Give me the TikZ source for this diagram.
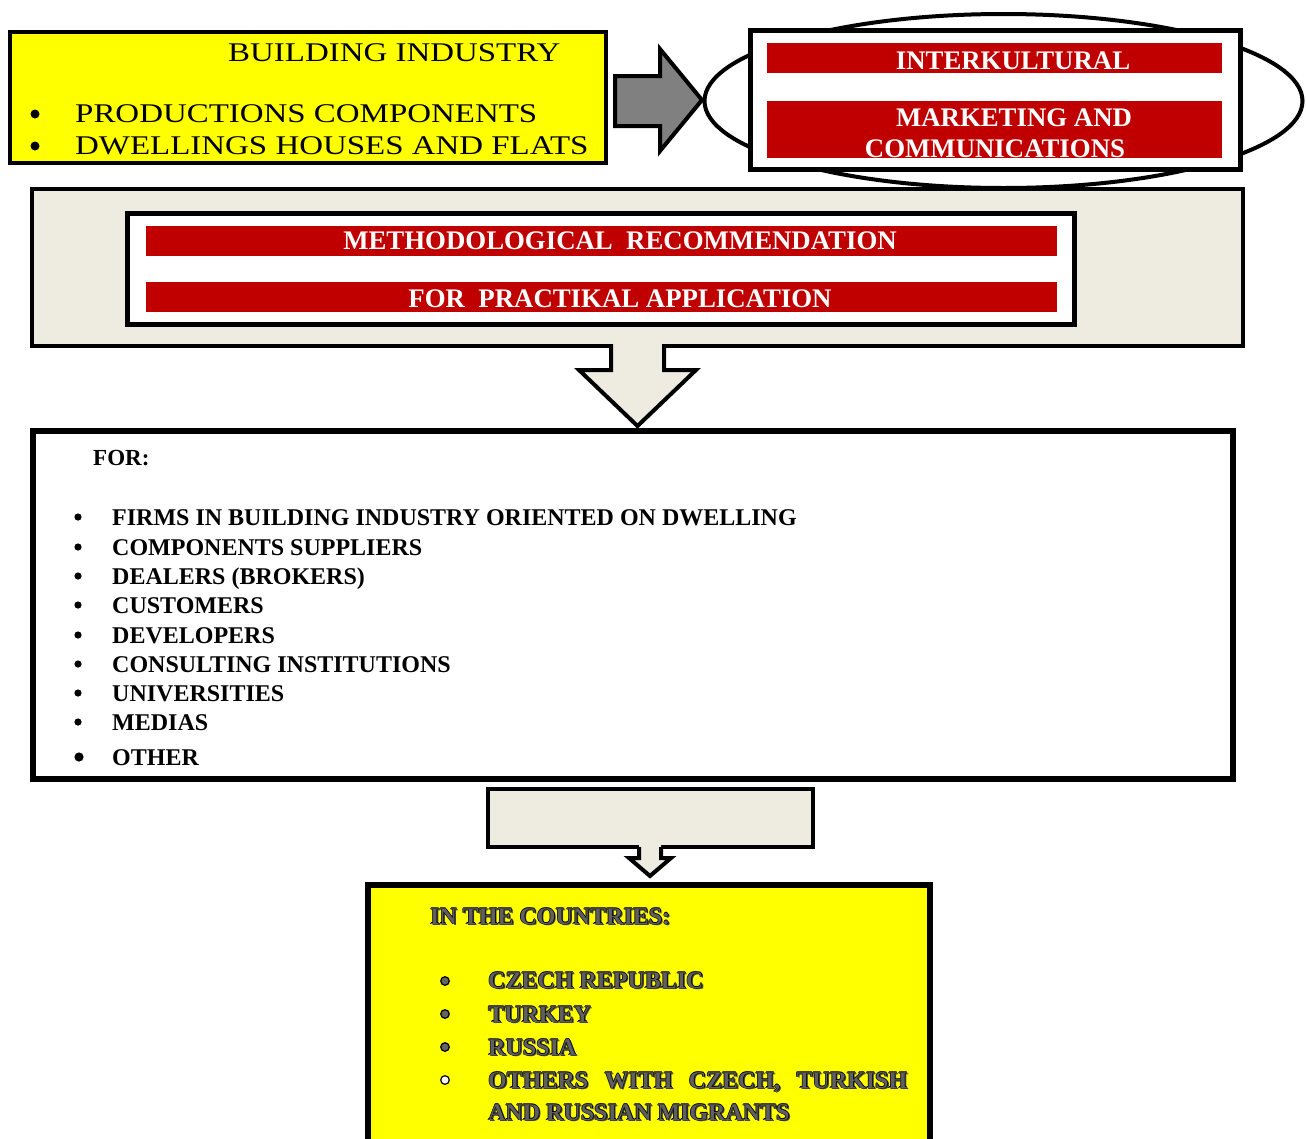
\documentclass[tikz,border=0pt]{standalone}
\usepackage{fontspec}
\setmainfont{Liberation Serif}
\newfontfamily\widefont[FakeStretch=1.22]{Liberation Serif}
\usetikzlibrary{shapes.geometric}
\definecolor{myyellow}{RGB}{255,255,0}
\definecolor{myred}{RGB}{192,0,0}
\definecolor{mybeige}{RGB}{238,236,225}
\definecolor{arrowgray}{RGB}{128,128,128}
\definecolor{txtgray}{RGB}{95,95,95}
\definecolor{bulgray}{RGB}{100,100,100}
\newcommand\olt[1]{\leavevmode
 \rlap{\textcolor{black!75}{\hspace*{1.6pt}\raisebox{-1.6pt}{#1}}}%
 \rlap{\textcolor{black}{\hspace*{-0.7pt}#1}}%
 \rlap{\textcolor{black}{\hspace*{0.7pt}#1}}%
 \rlap{\textcolor{black}{\raisebox{0.7pt}{#1}}}%
 \rlap{\textcolor{black}{\raisebox{-0.7pt}{#1}}}%
 \textcolor{txtgray}{#1}}
\tikzset{
 boxnode/.style={draw=black, inner sep=0pt, outer sep=0pt},
 redbar/.style={fill=myred, inner sep=0pt, outer sep=0pt},
 bartext/.style={text=white, inner sep=0pt, font=\bfseries\fontsize{26.8}{26.8}\selectfont},
 toptext/.style={inner sep=0pt, anchor=base west, font=\widefont\fontsize{27}{27}\selectfont},
 listtext/.style={inner sep=0pt, anchor=base west, font=\bfseries\fontsize{24}{24}\selectfont},
 ctext/.style={inner sep=0pt, anchor=base west, font=\bfseries\fontsize{24}{24}\selectfont},
 blockarrow/.style={line width=4pt, line join=miter},
}
\begin{document}
\begin{tikzpicture}[x=1pt,y=-1pt]
\useasboundingbox (0,0) rectangle (1306,1138);
\clip (0,0) rectangle (1306,1138);

% ellipse and right box
\node[boxnode, ellipse, line width=4pt, fill=white, minimum width=598pt, minimum height=174pt] (ell) at (1003.5,101) {};
\node[boxnode, line width=5pt, fill=white, minimum width=490pt, minimum height=139pt] (rbox) at (995.5,100) {};
\node[redbar, minimum width=455pt, minimum height=30pt] (rbar1) at (994.5,58) {};
\node[redbar, minimum width=455pt, minimum height=57pt] (rbar2) at (994.5,129.5) {};
\node[bartext, anchor=base] (t-inter) at (1013,69) {INTERKULTURAL};
\node[bartext, anchor=base] (t-mark) at (1014,126) {MARKETING AND};
\node[bartext, anchor=base] (t-comm) at (995,157) {COMMUNICATIONS};

% top-left yellow box
\node[boxnode, line width=4pt, fill=myyellow, minimum width=596pt, minimum height=131pt] (ybox) at (308,97.5) {};
\node[toptext] (t-bi) at (228,61) {BUILDING INDUSTRY};
\fill (35,114) circle (4.5);
\fill (35,146) circle (4.5);
\node[toptext] (t-pc) at (75,122) {PRODUCTIONS COMPONENTS};
\node[toptext] (t-dh) at (75,154) {DWELLINGS HOUSES AND FLATS};

% gray arrow
\draw[blockarrow, fill=arrowgray] (615,76) -- (660,76) -- (660,49) -- (702,100) -- (660,151) -- (660,126) -- (615,126) -- cycle;

% beige box with inner white box
\node[boxnode, line width=4pt, fill=mybeige, minimum width=1211pt, minimum height=157pt] (bbox) at (637.5,267.5) {};
\node[boxnode, line width=5pt, fill=white, minimum width=947pt, minimum height=111pt] (wbox) at (601,269) {};
\node[redbar, minimum width=911pt, minimum height=30pt] (mbar1) at (601.5,241) {};
\node[redbar, minimum width=911pt, minimum height=30pt] (mbar2) at (601.5,297) {};
\node[bartext, anchor=base] (t-meth) at (620,249) {METHODOLOGICAL\ \ RECOMMENDATION};
\node[bartext, anchor=base] (t-prac) at (620,307) {FOR\ \ PRACTIKAL APPLICATION};

% down arrow 1
\fill[mybeige] (611,342) -- (611,370) -- (579,370) -- (637.5,426) -- (696,370) -- (664,370) -- (664,342) -- cycle;
\draw[blockarrow] (611,344) -- (611,370) -- (579,370) -- (637.5,426) -- (696,370) -- (664,370) -- (664,344);

% big white box
\node[boxnode, line width=6pt, fill=white, minimum width=1200pt, minimum height=348pt] (fbox) at (633,605) {};
\node[listtext, font=\bfseries\fontsize{23}{23}\selectfont] (t-for) at (93,465) {FOR:};
\foreach \yy/\txt [count=\i] in {517/FIRMS IN BUILDING INDUSTRY ORIENTED ON DWELLING,
  547/COMPONENTS SUPPLIERS,576/DEALERS (BROKERS),605/CUSTOMERS,635/DEVELOPERS,
  664/CONSULTING INSTITUTIONS,693/UNIVERSITIES,722/MEDIAS}{
  \fill (78,\yy) circle (3.6);
  \node[listtext] (item\i) at (112,\yy+8) {\txt};
}
\fill (79,757) circle (4.6);
\node[listtext] (item9) at (112,765) {OTHER};

% small beige box and arrow
\node[boxnode, line width=4pt, fill=mybeige, minimum width=325pt, minimum height=58pt] (sbox) at (650.5,818) {};
\fill[mybeige] (639,845) -- (639,858) -- (629,858) -- (650,876) -- (671,858) -- (661,858) -- (661,845) -- cycle;
\draw[blockarrow] (639,847) -- (639,858) -- (629,858) -- (650,876) -- (671,858) -- (661,858) -- (661,847);

% bottom yellow box
\node[boxnode, line width=6pt, fill=myyellow, minimum width=562pt, minimum height=262pt] (cbox) at (649,1016) {};
\node[ctext] (t-countries) at (430,924) {\olt{IN THE COUNTRIES:}};
\foreach \yy in {981,1014,1047}{
  \draw[line width=1.2pt, fill=bulgray] (445,\yy) circle (4.3);
}
\draw[line width=1.2pt, fill=white] (445,1080) circle (4.3);
\node[ctext] (c1) at (488,988) {\olt{CZECH REPUBLIC}};
\node[ctext] (c2) at (488,1022) {\olt{TURKEY}};
\node[ctext] (c3) at (488,1055) {\olt{RUSSIA}};
\node[ctext] (c4) at (488,1088) {\olt{\makebox[419pt][s]{OTHERS WITH CZECH, TURKISH}}};
\node[ctext] (c5) at (488,1120) {\olt{AND RUSSIAN MIGRANTS}};
\end{tikzpicture}
\end{document}
